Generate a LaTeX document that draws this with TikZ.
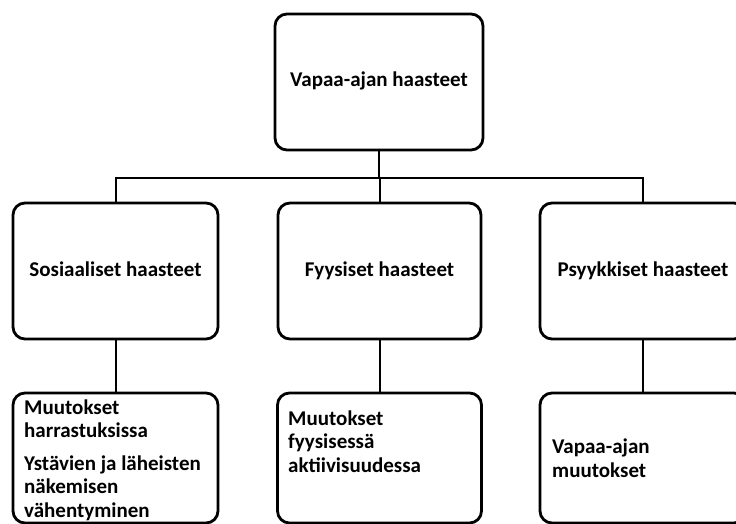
\documentclass[tikz,border=0pt]{standalone}
\usepackage{fontspec}
\setmainfont{Carlito}
\begin{document}
\begin{tikzpicture}[x=1pt,y=-1pt,
  box/.style={draw=black,line width=2.8pt,rounded corners=12pt,fill=white,inner sep=0pt},
  head/.style={box,font=\fontsize{21}{23.5}\selectfont\bfseries,text height=14pt,text depth=4pt,minimum height=136pt},
  conn/.style={draw=black,line width=2pt},
  lbl/.style={font=\fontsize{21}{23.5}\selectfont\bfseries,inner sep=0pt,align=left,anchor=base west}]
\useasboundingbox (0,0) rectangle (736,524);
\clip (0,0) rectangle (736,524);
% top
\node[head,minimum width=208pt] (top) at (379,82) {Vapaa-ajan haasteet};
% second row
\node[head,minimum width=205pt] (s1) at (115.5,271) {Sosiaaliset haasteet};
\node[head,minimum width=203pt] (s2) at (379.5,271) {Fyysiset haasteet};
\node[head,minimum width=206pt] (s3) at (643,271) {Psyykkiset haasteet};
% third row boxes
\node[box,minimum width=205pt,minimum height=130pt] (b1) at (115.5,458) {};
\node[box,minimum width=204pt,minimum height=130pt] (b2) at (379.5,458) {};
\node[box,minimum width=206pt,minimum height=130pt] (b3) at (643,458) {};
% texts of third row
\node[lbl] (t1) at (24,517) {Muutokset\\harrastuksissa\\[9pt]Ystävien ja läheisten\\näkemisen\\vähentyminen};
\node[lbl] (t2) at (288,472) {Muutokset\\fyysisessä\\aktiivisuudessa};
\node[lbl] (t3) at (552,477) {Vapaa-ajan\\muutokset};
% connectors
\coordinate (hub) at (379,178);
\draw[conn] (top.south) -- (hub);
\draw[conn] (s1.north) |- (hub) -| (s3.north);
\draw[conn] (s2.north) -- (s2.north |- hub);
\draw[conn] (s1.south) -- (b1.north);
\draw[conn] (s2.south) -- (b2.north);
\draw[conn] (s3.south) -- (b3.north);
\end{tikzpicture}
\end{document}
